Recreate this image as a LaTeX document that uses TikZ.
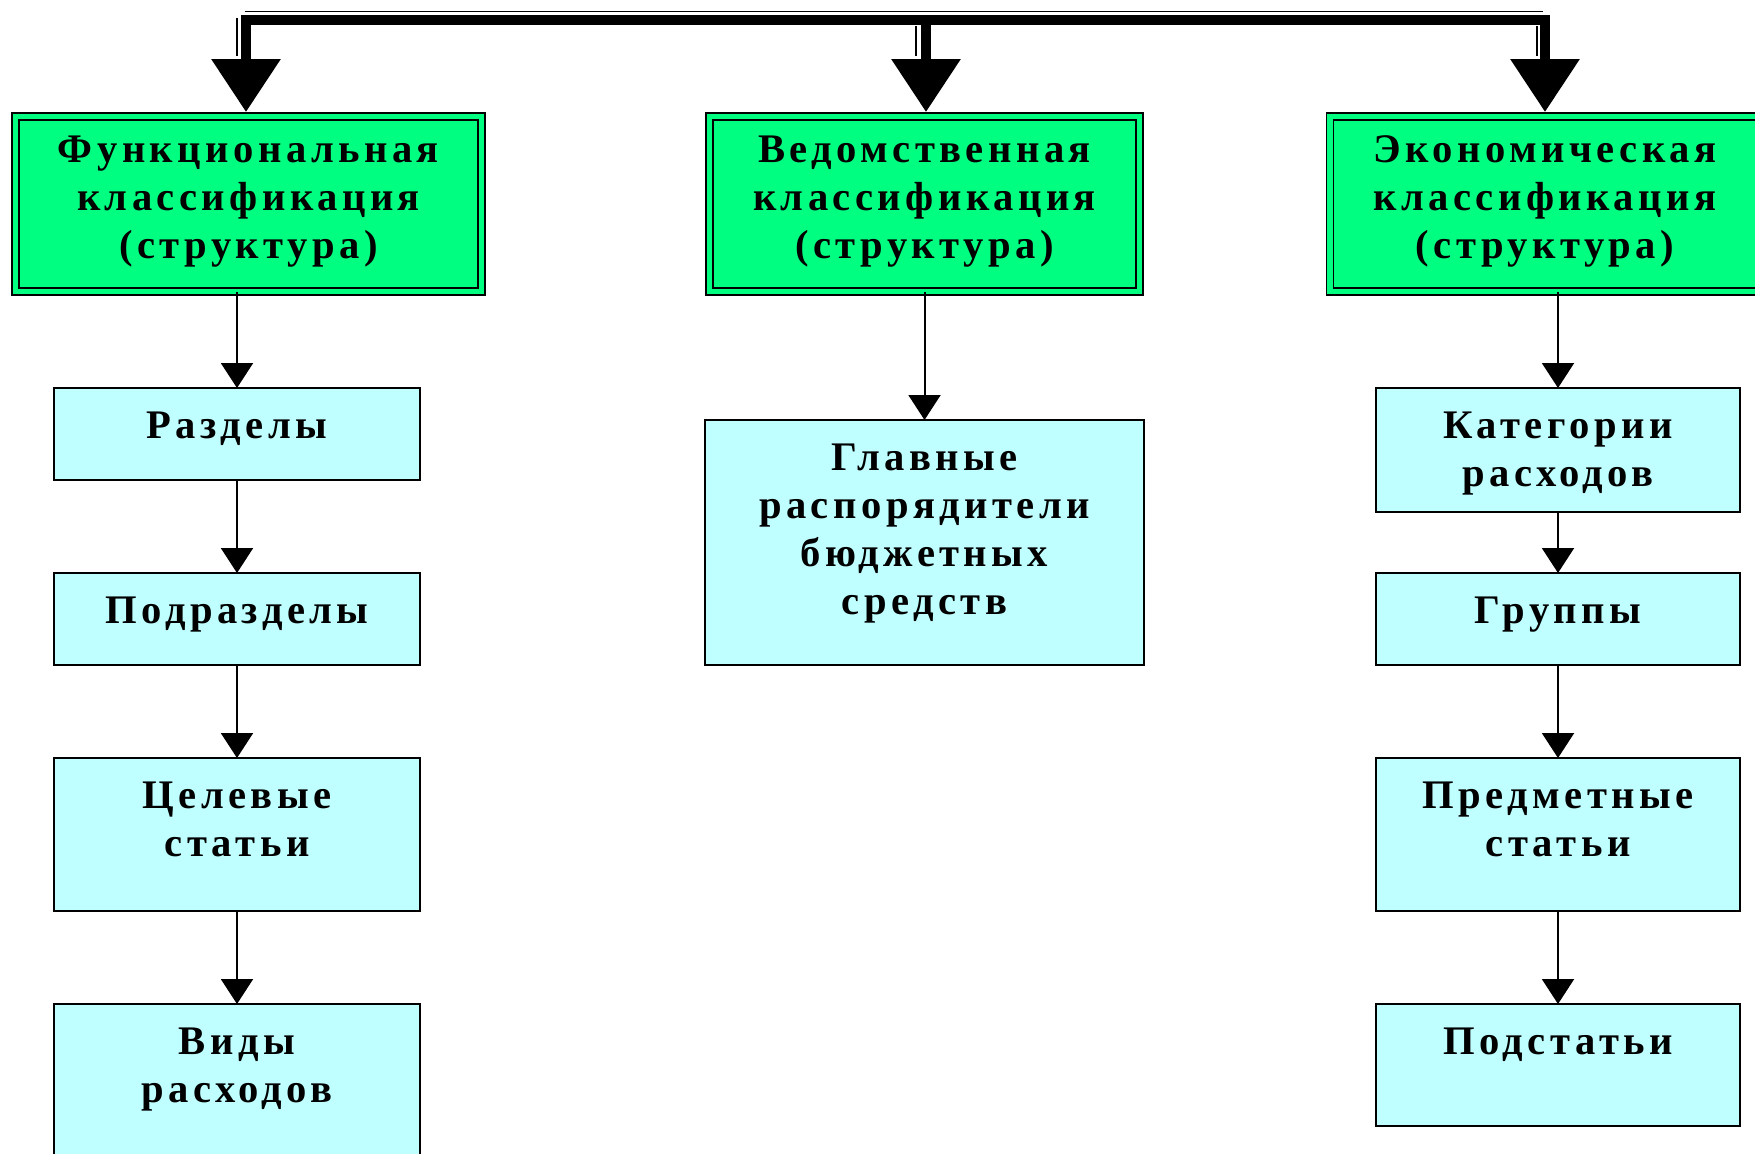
\documentclass[tikz,border=0pt]{standalone}
\usepackage{fontspec}
\setmainfont{Liberation Serif}[LetterSpace=11]
\usetikzlibrary{arrows.meta}
\definecolor{gfill}{HTML}{00FF80}
\definecolor{cfill}{HTML}{C0FFFF}
\newcommand\boxtxt[4]{\parbox[c][#2][t]{#1}{\centering\rule{0pt}{#3}#4\par}}
\tikzset{
 bigtip/.tip={Triangle[width=33.5pt,length=26.5pt]},
 smalltip/.tip={Triangle[width=16pt,length=12.5pt]}
}
\begin{document}
\begin{tikzpicture}[x=0.5pt,y=-0.5pt,
 font=\fontsize{20.3pt}{24pt}\selectfont\bfseries,
 gbox/.style={draw=black, line width=0.9pt, double=gfill, double distance=2.6pt, fill=gfill, inner sep=0pt, outer sep=0pt, anchor=north},
 cbox/.style={draw=black, line width=0.7pt, fill=cfill, inner sep=0pt, outer sep=0pt, anchor=north},
 conn/.style={line width=1pt, -smalltip},
 bigline/.style={line width=5pt, line join=miter},
 shadowline/.style={line width=0.75pt}
]
\useasboundingbox (0,0) rectangle (1755,1153);
\clip (0,0) rectangle (1755,1153);

% top level boxes
\node[gbox] (g1) at (248.5,116.5) {\boxtxt{233pt}{87.5pt}{23pt}{Функциональная\\классификация\\(структура)}};
\node[gbox] (g2) at (924.5,116.5) {\boxtxt{215pt}{87.5pt}{23pt}{Ведомственная\\классификация\\(структура)}};
\node[gbox] (g3) at (1545,116.5) {\boxtxt{215pt}{87.5pt}{23pt}{Экономическая\\классификация\\(структура)}};

% left column
\node[cbox] (r1) at (237,388) {\boxtxt{183pt}{46pt}{25pt}{Разделы}};
\node[cbox] (r2) at (237,573) {\boxtxt{183pt}{46pt}{25pt}{Подразделы}};
\node[cbox] (r3) at (237,758) {\boxtxt{183pt}{76.5pt}{25pt}{Целевые\\статьи}};
\node[cbox] (r4) at (237,1004) {\boxtxt{183pt}{80pt}{25pt}{Виды\\расходов}};

% middle column
\node[cbox] (m1) at (924.5,420) {\boxtxt{219.5pt}{122.5pt}{25pt}{Главные\\распорядители\\бюджетных\\средств}};

% right column
\node[cbox] (e1) at (1558,388) {\boxtxt{182pt}{62pt}{25pt}{Категории\\расходов}};
\node[cbox] (e2) at (1558,573) {\boxtxt{182pt}{46pt}{25pt}{Группы}};
\node[cbox] (e3) at (1558,758) {\boxtxt{182pt}{76.5pt}{25pt}{Предметные\\статьи}};
\node[cbox] (e4) at (1558,1004) {\boxtxt{182pt}{61pt}{25pt}{Подстатьи}};

% top distribution bar
\coordinate (b1) at (246,20);
\coordinate (b2) at (926,20);
\coordinate (b3) at (1545,20);
\draw[shadowline] (245,11.5) -- (1543,11.5);
\draw[shadowline] (237,18) -- (237,56);
\draw[shadowline] (916,26) -- (916,56);
\draw[shadowline] (1537,26) -- (1537,56);
\draw[bigline, bigtip-bigtip, shorten <=2.25pt, shorten >=2.25pt] (b1 |- g1.north) -- (b1) -- (b3) -- (b3 |- g3.north);
\draw[bigline, -bigtip, shorten >=2.25pt] (b2) -- (b2 |- g2.north);

% connectors
\draw[conn] (g1.south -| r1.north) -- (r1.north);
\draw[conn] (r1.south) -- (r2.north);
\draw[conn] (r2.south) -- (r3.north);
\draw[conn] (r3.south) -- (r4.north);
\draw[conn] (g2.south -| m1.north) -- (m1.north);
\draw[conn] (g3.south -| e1.north) -- (e1.north);
\draw[conn] (e1.south) -- (e2.north);
\draw[conn] (e2.south) -- (e3.north);
\draw[conn] (e3.south) -- (e4.north);
\end{tikzpicture}
\end{document}
